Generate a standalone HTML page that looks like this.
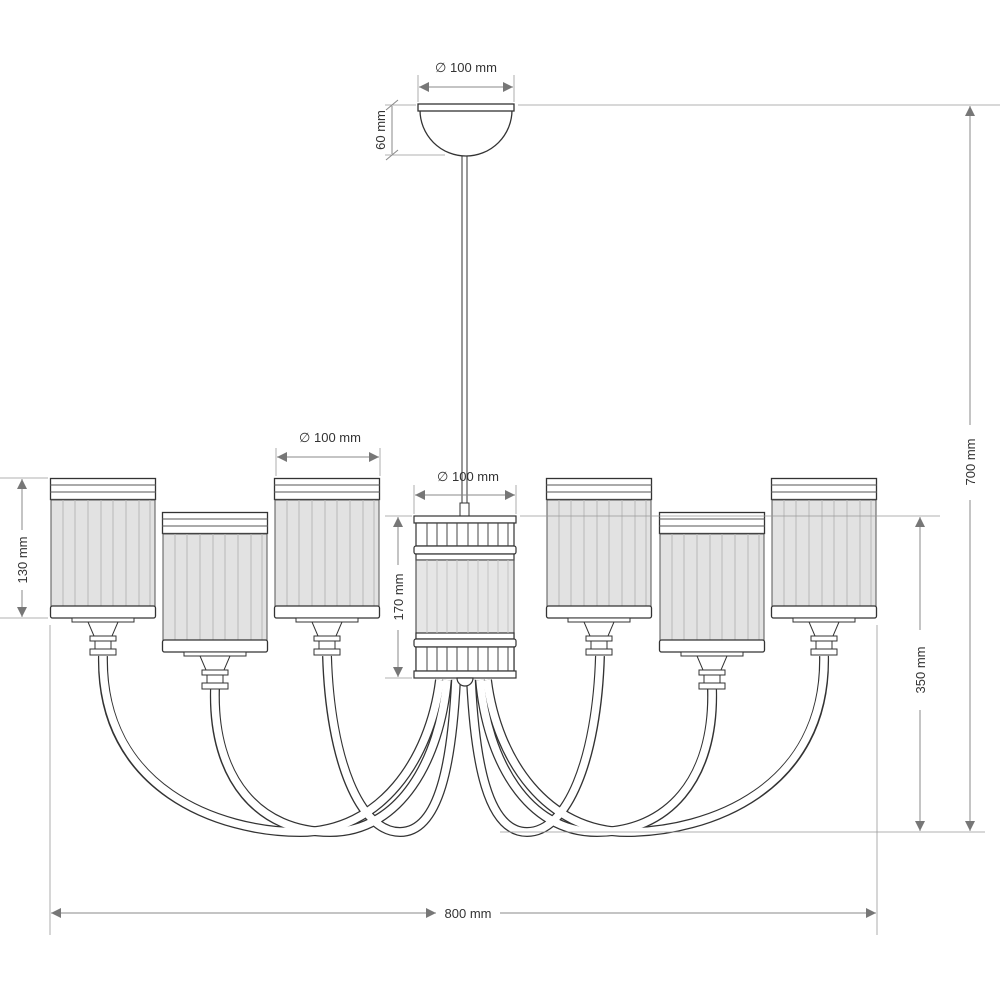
<!DOCTYPE html>
<html><head><meta charset="utf-8"><style>body{margin:0;background:#fff}svg{display:block}text{font-family:"Liberation Sans",sans-serif;font-size:13px;fill:#333}</style></head><body>
<svg width="1000" height="1000" viewBox="0 0 1000 1000" xmlns="http://www.w3.org/2000/svg">
<defs>
<marker id="a" viewBox="0 0 10 10" refX="10" refY="5" markerWidth="14" markerHeight="10" markerUnits="userSpaceOnUse" orient="auto-start-reverse"><path d="M0 0L10 5L0 10z" fill="#777"/></marker>
<g id="shade">
<rect x="0.5" y="0.5" width="105" height="21" fill="#fff" stroke="#333" stroke-width="1.3"/>
<line x1="0" y1="7" x2="106" y2="7" stroke="#555"/><line x1="0" y1="14" x2="106" y2="14" stroke="#555"/>
<rect x="1" y="22" width="104" height="106" fill="#e2e2e2" stroke="#555"/>
<g stroke="#b8b8b8" stroke-width="1"><line x1="13" y1="22" x2="13" y2="128"/><line x1="25" y1="22" x2="25" y2="128"/><line x1="38" y1="22" x2="38" y2="128"/><line x1="51" y1="22" x2="51" y2="128"/><line x1="63" y1="22" x2="63" y2="128"/><line x1="76" y1="22" x2="76" y2="128"/><line x1="89" y1="22" x2="89" y2="128"/><line x1="100" y1="22" x2="100" y2="128"/></g>
<rect x="0.5" y="128" width="105" height="12" rx="2" fill="#fff" stroke="#333" stroke-width="1.3"/>
<rect x="22" y="140" width="62" height="4" fill="#fff" stroke="#333"/>
<path d="M38 144 L68 144 L62 158 L44 158 Z" fill="#fff" stroke="#333"/>
<rect x="40" y="158" width="26" height="5" fill="#fff" stroke="#333"/>
<rect x="45" y="163" width="16" height="8" fill="#fff" stroke="#333"/>
<rect x="40" y="171" width="26" height="6" fill="#fff" stroke="#333"/>
</g>
<g id="arms">
<g fill="none" stroke="#333" stroke-width="10">
<path d="M103 656 C 100 790, 220 832, 300 832 C 380 832, 430 760, 440 680"/>
<path d="M215 689 C 212 780, 260 832, 330 832 C 400 832, 440 760, 447 680"/>
<path d="M327 656 C 330 760, 360 832, 400 832 C 440 832, 452 760, 456 680"/>
</g>
<g fill="none" stroke="#fff" stroke-width="7.5">
<path d="M103 654 C 100 790, 220 832, 300 832 C 380 832, 430 760, 440 680"/>
<path d="M215 687 C 212 780, 260 832, 330 832 C 400 832, 440 760, 447 680"/>
<path d="M327 654 C 330 760, 360 832, 400 832 C 440 832, 452 760, 456 680"/>
</g>
</g>
</defs>
<use href="#arms"/>
<use href="#arms" transform="translate(927,0) scale(-1,1)"/>
<rect x="462" y="150" width="5" height="355" fill="#fff" stroke="#333"/>
<path d="M420 110 A46 46 0 0 0 512 110 Z" fill="#fff" stroke="#333" stroke-width="1.3"/>
<rect x="418" y="104" width="96" height="7" fill="#fff" stroke="#333" stroke-width="1.3"/>
<rect x="460" y="503" width="9" height="14" fill="#fff" stroke="#333"/>
<use href="#shade" transform="translate(50,478)"/>
<use href="#shade" transform="translate(162,512)"/>
<use href="#shade" transform="translate(274,478)"/>
<use href="#shade" transform="translate(546,478)"/>
<use href="#shade" transform="translate(659,512)"/>
<use href="#shade" transform="translate(771,478)"/>
<g stroke="#333" stroke-width="1.2">
<rect x="414" y="516" width="102" height="7" fill="#fff"/>
<rect x="416" y="523" width="98" height="23" fill="#fff"/>
<rect x="414" y="546" width="102" height="8" rx="2" fill="#fff"/>
<rect x="416" y="554" width="98" height="6" fill="#fff"/>
<rect x="416" y="560" width="98" height="113" fill="#e6e6e6" stroke="#555"/>
<rect x="416" y="633" width="98" height="6" fill="#fff"/>
<rect x="414" y="639" width="102" height="8" rx="2" fill="#fff"/>
<rect x="416" y="647" width="98" height="24" fill="#fff"/>
<rect x="414" y="671" width="102" height="7" fill="#fff"/>
<path d="M457 678 A8 8 0 0 0 473 678 Z" fill="#fff"/>
</g>
<g stroke="#444" stroke-width="1"><path d="M427 523V546M437 523V546M447 523V546M457 523V546M468 523V546M478 523V546M488 523V546M498 523V546M508 523V546M427 647V671M437 647V671M447 647V671M457 647V671M468 647V671M478 647V671M488 647V671M498 647V671M508 647V671"/></g>
<g stroke="#c4c4c4"><path d="M427 560V633M437 560V633M447 560V633M457 560V633M468 560V633M478 560V633M488 560V633M498 560V633M508 560V633"/></g>
<g stroke="#999" stroke-width="0.8" fill="none">
<line x1="518" y1="105" x2="1000" y2="105"/>
<line x1="520" y1="516" x2="940" y2="516"/>
<line x1="500" y1="832" x2="985" y2="832"/>
<line x1="50" y1="625" x2="50" y2="935"/>
<line x1="877" y1="625" x2="877" y2="935"/>
<line x1="0" y1="478" x2="48" y2="478"/>
<line x1="0" y1="618" x2="48" y2="618"/>
<line x1="385" y1="516" x2="412" y2="516"/>
<line x1="385" y1="678" x2="412" y2="678"/>
<line x1="385" y1="105" x2="416" y2="105"/>
<line x1="385" y1="155" x2="445" y2="155"/>
<line x1="418" y1="75" x2="418" y2="102"/><line x1="514" y1="75" x2="514" y2="102"/>
<line x1="276" y1="448" x2="276" y2="476"/><line x1="380" y1="448" x2="380" y2="476"/>
<line x1="414" y1="485" x2="414" y2="514"/><line x1="516" y1="485" x2="516" y2="514"/>
</g>
<g stroke="#888" stroke-width="1" fill="none" marker-start="url(#a)" marker-end="url(#a)">
<line x1="51" y1="913" x2="436" y2="913"/><line x1="500" y1="913" x2="876" y2="913" marker-start="none"/>
<line x1="970" y1="106" x2="970" y2="425" marker-end="none"/><line x1="970" y1="500" x2="970" y2="831" marker-start="none"/>
<line x1="920" y1="517" x2="920" y2="630" marker-end="none"/><line x1="920" y1="710" x2="920" y2="831" marker-start="none"/>
<line x1="22" y1="479" x2="22" y2="530" marker-end="none"/><line x1="22" y1="590" x2="22" y2="617" marker-start="none"/>
<line x1="398" y1="517" x2="398" y2="565" marker-end="none"/><line x1="398" y1="630" x2="398" y2="677" marker-start="none"/>
<line x1="392" y1="106" x2="392" y2="154" marker-start="none" marker-end="none"/>
<line x1="419" y1="87" x2="513" y2="87"/>
<line x1="277" y1="457" x2="379" y2="457"/>
<line x1="415" y1="495" x2="515" y2="495"/>
</g>
<g stroke="#888"><line x1="386" y1="110" x2="398" y2="100"/><line x1="386" y1="160" x2="398" y2="150"/></g>
<text x="468" y="918" text-anchor="middle" font-size="14">800 mm</text>
<text transform="translate(975,462) rotate(-90)" text-anchor="middle" font-size="14">700 mm</text>
<text transform="translate(925,670) rotate(-90)" text-anchor="middle" font-size="14">350 mm</text>
<text transform="translate(27,560) rotate(-90)" text-anchor="middle" font-size="12">130 mm</text>
<text transform="translate(403,597) rotate(-90)" text-anchor="middle" font-size="13">170 mm</text>
<text transform="translate(385,130) rotate(-90)" text-anchor="middle" font-size="12">60 mm</text>
<text x="466" y="72" text-anchor="middle">∅ 100 mm</text>
<text x="330" y="442" text-anchor="middle">∅ 100 mm</text>
<text x="468" y="481" text-anchor="middle">∅ 100 mm</text>
</svg>
</body></html>
